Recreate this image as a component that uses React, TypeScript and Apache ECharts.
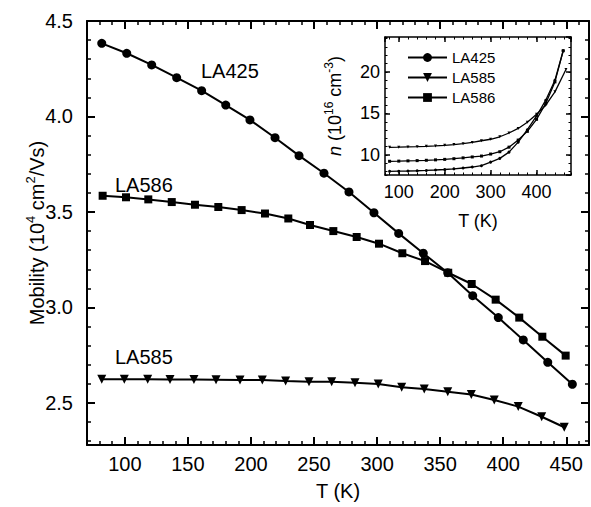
import React, { useEffect, useRef } from 'react';
import * as echarts from 'echarts';

const FONT = '"Liberation Sans", Arial, Helvetica, sans-serif';

// ---------- main panel data (T in K, mobility in 1e4 cm^2/Vs) ----------
const tLA425 = [81.7, 101.5, 121.3, 141.1, 160.9, 180.0, 199.2, 219.1, 238.1, 257.9, 277.7, 297.5, 317.1, 336.6, 356.0, 375.8, 396.1, 415.9, 435.3, 454.8];
const muLA425 = [4.383, 4.331, 4.270, 4.203, 4.135, 4.060, 3.982, 3.889, 3.795, 3.703, 3.605, 3.496, 3.388, 3.284, 3.182, 3.062, 2.947, 2.830, 2.713, 2.598];

const tLA586 = [82.4, 100.9, 118.6, 137.2, 155.6, 174.1, 192.6, 211.1, 229.6, 246.8, 265.3, 283.8, 301.5, 320.0, 338.0, 356.4, 375.0, 394.0, 412.7, 431.0, 449.5];
const muLA586 = [3.585, 3.577, 3.566, 3.552, 3.538, 3.526, 3.510, 3.492, 3.466, 3.432, 3.400, 3.369, 3.334, 3.284, 3.243, 3.182, 3.123, 3.041, 2.947, 2.847, 2.748];

const tLA585 = [81.7, 99.6, 118.1, 135.8, 154.8, 172.3, 191.3, 209.0, 227.5, 246.0, 264.0, 282.5, 300.9, 319.5, 337.4, 356.0, 374.7, 392.9, 411.9, 430.5, 448.4];
const muLA585 = [2.624, 2.624, 2.624, 2.623, 2.623, 2.622, 2.620, 2.620, 2.615, 2.611, 2.611, 2.606, 2.599, 2.582, 2.573, 2.559, 2.544, 2.516, 2.481, 2.428, 2.373];

const mainXRange = [70, 468];
const mainYRange = [2.28, 4.5];
const mainXSteps = [50, 10];
const mainYSteps = [0.5, 0.1];

// ---------- inset data (T in K, n in 1e16 cm^-3) ----------
const insetT425 = [80, 100, 120, 140, 160, 180, 200, 220, 240, 260, 280, 300, 320, 340, 360, 380, 400, 420, 440, 458];
const insetN425 = [8.04, 8.06, 8.08, 8.11, 8.15, 8.2, 8.26, 8.34, 8.44, 8.56, 8.72, 9.15, 9.6, 10.35, 11.55, 13.05, 14.7, 16.6, 19.0, 22.55];
const insetT585 = [80, 100, 120, 140, 160, 180, 200, 220, 240, 260, 280, 300, 320, 340, 360, 380, 400, 420, 440, 464];
const insetN585 = [10.93, 10.95, 10.98, 11.01, 11.05, 11.1, 11.17, 11.26, 11.37, 11.52, 11.72, 11.9, 12.2, 12.65, 13.2, 13.95, 14.9, 16.0, 17.6, 20.3];
const insetT586 = [80, 100, 120, 140, 160, 180, 200, 220, 240, 260, 280, 300, 320, 340, 360, 380, 400, 420, 440, 458];
const insetN586 = [9.25, 9.27, 9.3, 9.33, 9.37, 9.42, 9.48, 9.56, 9.66, 9.77, 9.88, 10.12, 10.4, 10.95, 11.8, 12.85, 14.3, 16.2, 18.8, 22.55];

const insetXRange = [70, 475];
const insetYRange = [7.6, 24.2];
const insetXSteps = [100, 20];
const insetYSteps = [5, 1];

const seriesNames = ['LA425', 'LA585', 'LA586'];
const curveLabels = ['LA425', 'LA586', 'LA585'];

const pairs = (xs: number[], ys: number[]) => xs.map((x, i) => [x, ys[i]]);

type AxisOpts = {
  gridIndex: number;
  position: string;
  range: number[];
  step: number;
  tickLen: number;
  tickWidth: number;
  line: boolean;
  lineWidth: number;
  labels?: boolean;
  labelSize?: number;
  labelMargin?: number;
  formatter?: (v: number) => string;
  showMin?: boolean;
  showMax?: boolean;
  extra?: any;
};

function axis(o: AxisOpts) {
  return {
    type: 'value',
    gridIndex: o.gridIndex,
    position: o.position,
    min: o.range[0],
    max: o.range[1],
    minInterval: o.step,
    maxInterval: o.step,
    splitNumber: Math.round((o.range[1] - o.range[0]) / o.step),
    splitLine: { show: false },
    axisLine: { show: o.line, onZero: false, lineStyle: { color: '#000', width: o.lineWidth } },
    axisTick: {
      show: true,
      inside: true,
      length: o.tickLen,
      lineStyle: { color: '#000', width: o.tickWidth },
    },
    axisLabel: o.labels
      ? {
          show: true,
          color: '#000',
          fontFamily: FONT,
          fontSize: o.labelSize,
          margin: o.labelMargin,
          formatter: o.formatter,
          showMinLabel: !!o.showMin,
          showMaxLabel: !!o.showMax,
          hideOverlap: false,
        }
      : { show: false },
    ...(o.extra || {}),
  };
}

export default function App() {
  const ref = useRef<HTMLDivElement>(null);

  useEffect(() => {
    if (!ref.current) return;
    const chart = echarts.init(ref.current, null, { renderer: 'svg' });

    const mX = { gridIndex: 0, range: mainXRange };
    const mY = { gridIndex: 0, range: mainYRange };
    const iX = { gridIndex: 1, range: insetXRange };
    const iY = { gridIndex: 1, range: insetYRange };

    const xAxes = [
      axis({
        ...mX, position: 'bottom', step: mainXSteps[0], tickLen: 8, tickWidth: 2, line: true, lineWidth: 2,
        labels: true, labelSize: 20, labelMargin: 9, formatter: (v) => String(v),
        extra: {
          name: 'T (K)', nameLocation: 'middle', nameGap: 36, nameMoveOverlap: false,
          nameTextStyle: { fontFamily: FONT, fontSize: 20, color: '#000' },
        },
      }),
      axis({ ...mX, position: 'bottom', step: mainXSteps[1], tickLen: 4, tickWidth: 1.5, line: false, lineWidth: 1.5 }),
      axis({ ...mX, position: 'top', step: mainXSteps[0], tickLen: 8, tickWidth: 2, line: true, lineWidth: 2 }),
      axis({ ...mX, position: 'top', step: mainXSteps[1], tickLen: 4, tickWidth: 1.5, line: false, lineWidth: 1.5 }),
      axis({
        ...iX, position: 'bottom', step: insetXSteps[0], tickLen: 5, tickWidth: 1.5, line: true, lineWidth: 1.5,
        labels: true, labelSize: 18, labelMargin: 8, formatter: (v) => String(v),
        extra: {
          name: 'T (K)', nameLocation: 'middle', nameGap: 37, nameMoveOverlap: false,
          nameTextStyle: { fontFamily: FONT, fontSize: 18, color: '#000' },
        },
      }),
      axis({ ...iX, position: 'bottom', step: insetXSteps[1], tickLen: 2.5, tickWidth: 1, line: false, lineWidth: 1 }),
      axis({ ...iX, position: 'top', step: insetXSteps[0], tickLen: 5, tickWidth: 1.5, line: true, lineWidth: 1.5 }),
      axis({ ...iX, position: 'top', step: insetXSteps[1], tickLen: 2.5, tickWidth: 1, line: false, lineWidth: 1 }),
    ];

    const yAxes = [
      axis({
        ...mY, position: 'left', step: mainYSteps[0], tickLen: 8, tickWidth: 2, line: true, lineWidth: 2,
        labels: true, labelSize: 20, labelMargin: 14, formatter: (v) => v.toFixed(1), showMax: true,
        extra: {
          name: 'Mobility (10{sup|4} cm{sup|2}/Vs)', nameLocation: 'middle', nameGap: 37, nameMoveOverlap: false,
          nameTextStyle: {
            fontFamily: FONT, fontSize: 20, color: '#000', lineHeight: 26,
            rich: { sup: { fontFamily: FONT, fontSize: 13, color: '#000', lineHeight: 26, verticalAlign: 'top' } },
          },
        },
      }),
      axis({ ...mY, position: 'left', step: mainYSteps[1], tickLen: 4, tickWidth: 1.5, line: false, lineWidth: 1.5 }),
      axis({ ...mY, position: 'right', step: mainYSteps[0], tickLen: 8, tickWidth: 2, line: true, lineWidth: 2 }),
      axis({ ...mY, position: 'right', step: mainYSteps[1], tickLen: 4, tickWidth: 1.5, line: false, lineWidth: 1.5 }),
      axis({
        ...iY, position: 'left', step: insetYSteps[0], tickLen: 5, tickWidth: 1.5, line: true, lineWidth: 1.5,
        labels: true, labelSize: 18, labelMargin: 5, formatter: (v) => String(v),
        extra: {
          name: '{it|n} (10{sup|16} cm{sup|-3})', nameLocation: 'middle', nameGap: 38, nameMoveOverlap: false,
          nameTextStyle: {
            fontFamily: FONT, fontSize: 18, color: '#000', lineHeight: 24,
            rich: {
              it: { fontFamily: FONT, fontSize: 18, fontStyle: 'italic', color: '#000', lineHeight: 24 },
              sup: { fontFamily: FONT, fontSize: 12, color: '#000', lineHeight: 24, verticalAlign: 'top' },
            },
          },
        },
      }),
      axis({ ...iY, position: 'left', step: insetYSteps[1], tickLen: 2.5, tickWidth: 1, line: false, lineWidth: 1 }),
      axis({ ...iY, position: 'right', step: insetYSteps[0], tickLen: 5, tickWidth: 1.5, line: true, lineWidth: 1.5 }),
      axis({ ...iY, position: 'right', step: insetYSteps[1], tickLen: 2.5, tickWidth: 1, line: false, lineWidth: 1 }),
    ];

    const mainLine = (name: string, xs: number[], ys: number[], symbol: string, size: number, rotate = 0) => ({
      type: 'line',
      name,
      xAxisIndex: 0,
      yAxisIndex: 0,
      data: pairs(xs, ys),
      symbol,
      symbolSize: size,
      symbolRotate: rotate,
      showSymbol: true,
      color: '#000',
      itemStyle: { color: '#000' },
      lineStyle: { color: '#000', width: 2 },
      emphasis: { disabled: true },
      z: 3,
    });

    const insetLine = (name: string, xs: number[], ys: number[], symbol: string, rotate = 0) => ({
      type: 'line',
      name,
      xAxisIndex: 4,
      yAxisIndex: 4,
      data: pairs(xs, ys),
      symbol,
      symbolSize: 3,
      symbolRotate: rotate,
      showSymbol: true,
      color: '#000',
      itemStyle: { color: '#000' },
      lineStyle: { color: '#000', width: 1.3 },
      emphasis: { disabled: true },
      z: 3,
    });

    const labelPos = [[201, 71], [115, 185], [115, 357]];

    chart.setOption({
      animation: false,
      backgroundColor: '#fff',
      textStyle: { fontFamily: FONT },
      grid: [
        { left: 87, top: 21, width: 502, height: 424, outerBoundsMode: 'none', containLabel: false },
        { left: 385, top: 37, width: 186, height: 138, outerBoundsMode: 'none', containLabel: false },
      ],
      legend: {
        show: true,
        data: seriesNames,
        orient: 'vertical',
        left: 407,
        top: 50,
        padding: 0,
        itemWidth: 39,
        itemHeight: 11,
        itemGap: 5,
        textStyle: { fontFamily: FONT, fontSize: 15, color: '#000' },
        selectedMode: false,
      },
      xAxis: xAxes,
      yAxis: yAxes,
      series: [
        mainLine('LA425 mobility', tLA425, muLA425, 'circle', 9),
        mainLine('LA586 mobility', tLA586, muLA586, 'rect', 8),
        mainLine('LA585 mobility', tLA585, muLA585, 'triangle', 9, 180),
        insetLine('LA425', insetT425, insetN425, 'circle'),
        insetLine('LA585', insetT585, insetN585, 'triangle', 180),
        insetLine('LA586', insetT586, insetN586, 'rect'),
      ],
      graphic: curveLabels.map((text, i) => ({
        type: 'text',
        x: labelPos[i][0],
        y: labelPos[i][1],
        style: { text, fontFamily: FONT, fontSize: 20, fill: '#000', verticalAlign: 'middle' },
      })),
    });

    return () => chart.dispose();
  }, []);

  return <div ref={ref} style={{ position: 'absolute', left: 0, top: 0, width: 591, height: 507 }} />;
}
